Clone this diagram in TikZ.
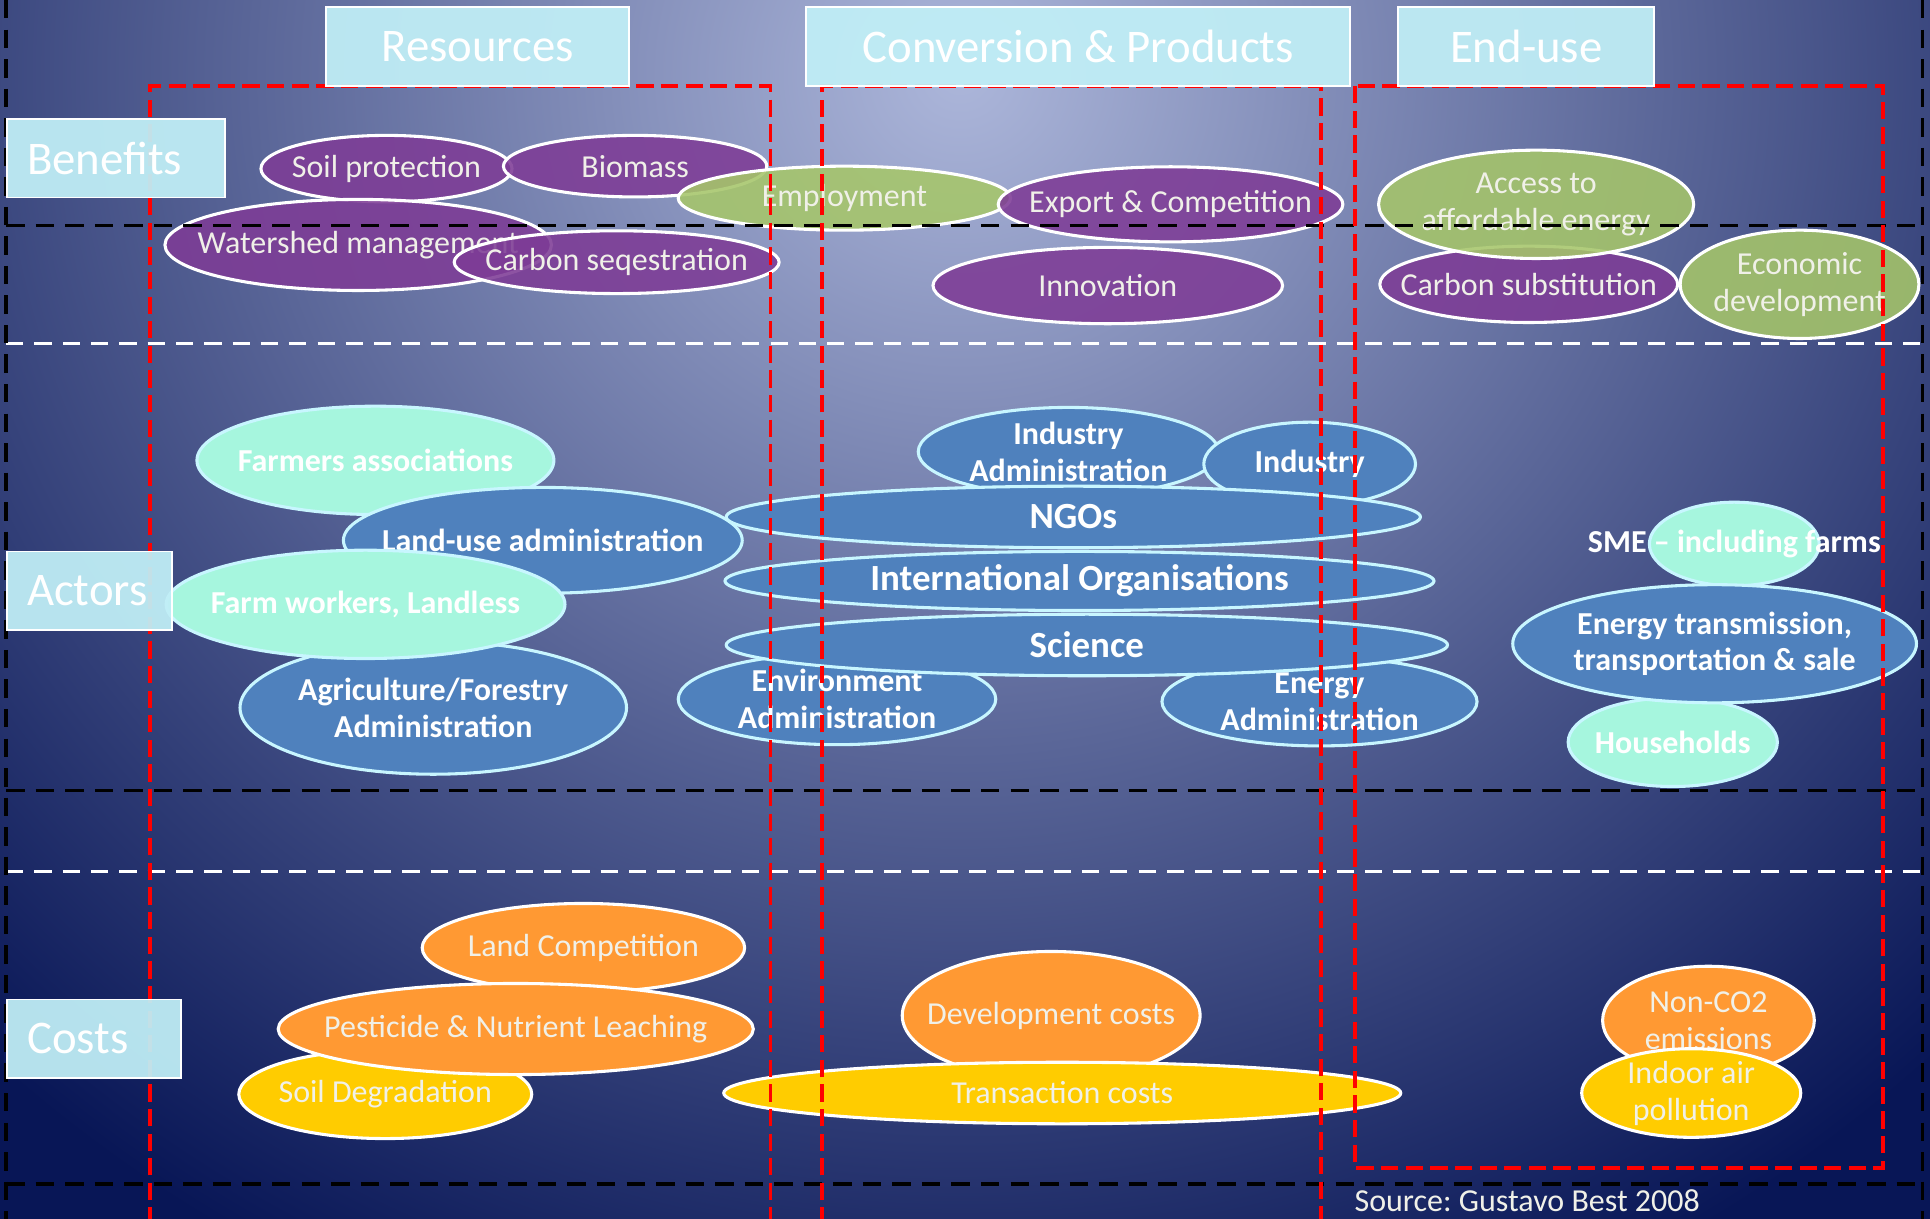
\documentclass[tikz,border=0pt]{standalone}
\usepackage{fontspec}
\setmainfont{Carlito}
\frenchspacing
\usetikzlibrary{shapes.geometric}
\definecolor{bgin}{RGB}{172,182,218}
\definecolor{bgout}{RGB}{8,22,86}
\definecolor{hdr}{RGB}{192,238,246}
\definecolor{purp}{RGB}{126,60,150}
\definecolor{lime}{RGB}{166,198,106}
\definecolor{actblue}{RGB}{79,129,189}
\definecolor{mint}{RGB}{166,246,222}
\definecolor{orng}{RGB}{255,153,51}
\definecolor{yell}{RGB}{255,204,0}
\definecolor{soft}{RGB}{240,240,232}
\definecolor{rim}{RGB}{200,246,255}

\tikzset{
  blob/.style={ellipse,inner sep=-150pt,line width=2.5pt,align=center,
    font=\fontsize{26}{30}\selectfont},
  benefit/.style={blob,draw=white,fill=purp,fill opacity=.88,text opacity=1,text=soft},
  gain/.style={benefit,fill=lime},
  actor/.style={blob,draw=rim,fill=actblue,text=white,font=\bfseries\fontsize{26}{30}\selectfont},
  agency/.style={actor,font=\bfseries\fontsize{30}{34}\selectfont},
  people/.style={actor,fill=mint},
  cost/.style={blob,draw=white,fill=orng,text=soft},
  burden/.style={cost,fill=yell},
  hdrbox/.style={draw=white,line width=1.5pt,fill=hdr,fill opacity=.94,text opacity=1,
    text=white,font=\fontsize{38}{44}\selectfont,minimum height=64pt,inner sep=0pt},
  rowbox/.style={hdrbox,align=left,inner xsep=16pt},
  blackdash/.style={black,line width=2.7pt,dash pattern=on 15pt off 9pt},
  whitedash/.style={white,line width=2.7pt,dash pattern=on 14pt off 9pt},
  reddash/.style={red,line width=3pt,dash pattern=on 14pt off 6pt}
}

\begin{document}
\begin{tikzpicture}[x=1pt,y=-1pt]
\useasboundingbox (0,0) rectangle (1568,990);
\fill[bgout] (0,0) rectangle (1568,990);
\begin{scope}
  \clip (0,0) rectangle (1568,990);
  \shade[inner color=bgin,outer color=bgout] (780,60) ellipse [x radius=1150, y radius=1100];
\end{scope}

% benefits
\node[benefit,minimum width=204pt,minimum height=54pt] (soil) at (314,137) {Soil protection};
\node[benefit,minimum width=214pt,minimum height=50pt] (biomass) at (516,135) {Biomass};
\node[benefit,minimum width=314pt,minimum height=74pt] (watershed) at (291,199) {Watershed management};
\node[benefit,minimum width=264pt,minimum height=51pt] (carbon) at (501,213) {Carbon seqestration};
\node[gain,minimum width=270pt,minimum height=52pt] (employ) at (686,161) {Employment};
\node[benefit,minimum width=280pt,minimum height=61pt] (export) at (951,166) {Export \& Competition};
\node[benefit,minimum width=284pt,minimum height=62pt] (innov) at (900,232) {Innovation};
\node[benefit,minimum width=242pt,minimum height=62pt] (carbsub) at (1242,231) {Carbon substitution};
\node[gain,minimum width=256pt,minimum height=88pt] (access) at (1248,166) {Access to\\affordable energy};
\node[gain,minimum width=194pt,minimum height=88pt] (econ) at (1462,231) {Economic\\development};

% actors
\node[people,minimum width=290pt,minimum height=88pt] (farmers) at (305,374) {Farmers associations};
\node[actor,minimum width=324pt,minimum height=86pt] (landuse) at (441,439) {Land-use administration};
\node[actor,minimum width=314pt,minimum height=108pt] (agri) at (352,575) {Agriculture/Forestry\\Administration};
\node[people,minimum width=324pt,minimum height=88pt] (farmwork) at (297,491) {Farm workers, Landless};
\node[actor,minimum width=244pt,minimum height=72pt] (indadmin) at (868,367) {Industry\\Administration};
\node[actor,minimum width=172pt,minimum height=68pt] (industry) at (1064,377) {Industry};
\node[actor,minimum width=258pt,minimum height=74pt] (envadmin) at (680,568) {Environment\\Administration};
\node[actor,minimum width=256pt,minimum height=72pt] (enadmin) at (1072,570) {Energy\\Administration};
\node[agency,minimum width=564pt,minimum height=50pt] (ngos) at (872,420) {NGOs};
\node[agency,minimum width=576pt,minimum height=48pt] (intl) at (877,472) {International Organisations};
\node[agency,minimum width=586pt,minimum height=50pt] (science) at (883,524) {Science};
\node[people,minimum width=138pt,minimum height=68pt] (sme) at (1409,442) {SME -- including farms};
\node[people,minimum width=170pt,minimum height=72pt] (households) at (1359,603) {Households};
\node[actor,minimum width=328pt,minimum height=96pt] (transm) at (1393,523) {Energy transmission,\\transportation \& sale};

% costs
\node[cost,minimum width=262pt,minimum height=72pt] (landcomp) at (474,770) {Land Competition};
\node[burden,minimum width=238pt,minimum height=72pt] (soildeg) at (313,889) {Soil Degradation};
\node[cost,minimum width=386pt,minimum height=74pt] (pesticide) at (419,836) {Pesticide \& Nutrient Leaching};
\node[cost,minimum width=242pt,minimum height=104pt] (devcost) at (854,825) {Development costs};
\node[burden,minimum width=550pt,minimum height=50pt] (transcost) at (863,888) {Transaction costs};
\node[cost,minimum width=172pt,minimum height=88pt] (nonco) at (1388,829) {Non-CO2\\emissions};
\node[burden,minimum width=178pt,minimum height=72pt] (indoor) at (1374,888) {Indoor air\\pollution};

% row and column frames
\draw[blackdash] (5,183) -- (1562,183);
\draw[whitedash] (5,279) -- (1562,279);
\draw[blackdash] (5,642) -- (1562,642);
\draw[whitedash] (5,708) -- (1562,708);
\draw[blackdash] (5,962) -- (1562,962);
\draw[blackdash] (5,0) -- (5,990);
\draw[blackdash] (1562,0) -- (1562,990);
\draw[reddash] (122,995) |- (626,70) -- (626,995);
\draw[reddash] (668,995) |- (1073,70) -- (1073,995);
\draw[reddash] (1101,70) rectangle (1530,949);

% headings
\node[hdrbox,minimum width=246pt] (resources) at (388,38) {Resources};
\node[hdrbox,minimum width=442pt] (conversion) at (876,38) {Conversion \& Products};
\node[hdrbox,minimum width=208pt] (enduse) at (1240,38) {End-use};
\node[rowbox,text width=145pt] (benefits) at (94.5,128.5) {Benefits};
\node[rowbox,text width=102pt] (actors) at (73,480) {Actors};
\node[rowbox,text width=109pt] (costs) at (76.5,844) {Costs};

\node[text=soft,font=\fontsize{26}{30}\selectfont,anchor=base west] (source) at (1097,984) {Source: Gustavo Best 2008};
\end{tikzpicture}
\end{document}
